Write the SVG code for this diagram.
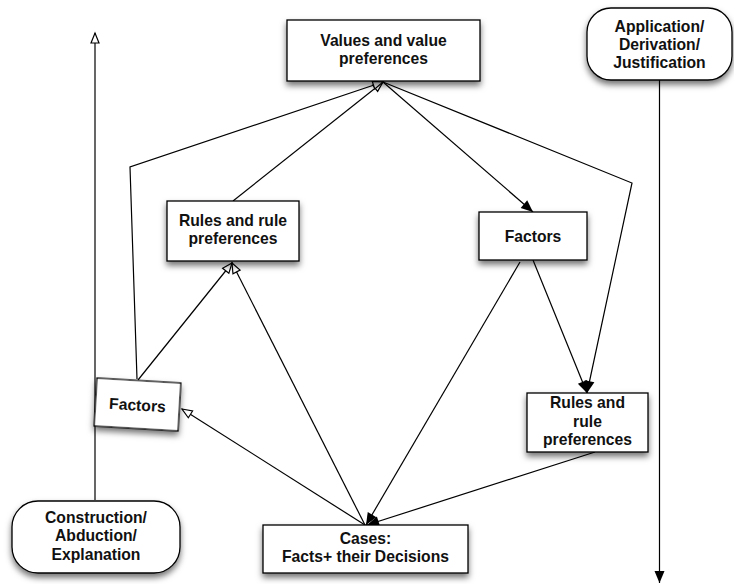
<svg xmlns="http://www.w3.org/2000/svg" width="734" height="584" viewBox="0 0 734 584">
<style>
.box{fill:#fff;stroke:#000;stroke-width:1.3}
.t{font-family:"Liberation Sans",Arial,sans-serif;font-weight:bold;font-size:15.7px;text-anchor:middle;fill:#111}
.c{fill:none;stroke:#000;stroke-width:1.2}
.h{marker-end:url(#hollow)}
.f{marker-end:url(#filled)}
</style>
<defs>
<filter id="sh" x="-20%" y="-20%" width="140%" height="160%">
<feDropShadow dx="0" dy="4" stdDeviation="3" flood-color="#000" flood-opacity="0.55"/>
</filter>
<marker id="hollow" markerUnits="userSpaceOnUse" markerWidth="14" markerHeight="12" refX="11" refY="5" orient="auto" overflow="visible">
<path d="M1,1 L11,5 L1,9 z" fill="#fff" stroke="#000" stroke-width="1.2"/>
</marker>
<marker id="filled" markerUnits="userSpaceOnUse" markerWidth="14" markerHeight="12" refX="12" refY="5" orient="auto" overflow="visible">
<path d="M0,0 L12,5 L0,10 z" fill="#000"/>
</marker>
</defs>
<g id="connectors">
<path class="c h" d="M95,500 L95,33"/>
<path class="c f" d="M659.5,80 L659.5,583"/>
<path class="c h" d="M233,201 L383,82"/>
<path class="c h" d="M137,379 L130,167 L383,82"/>
<path class="c f" d="M383,82 L533,212"/>
<path class="c f" d="M383,82 L632,183 L587,393"/>
<path class="c h" d="M138,380 L232,263"/>
<path class="c h" d="M365,525 L232,263"/>
<path class="c h" d="M365,525 L182,409"/>
<path class="c f" d="M520,262 L366,525"/>
<path class="c f" d="M533,260 L587,393"/>
<path class="c f" d="M595,452 L367,525"/>
</g>
<g id="values">
<rect class="box" filter="url(#sh)" x="287" y="20" width="193" height="61"/>
<text class="t" x="383.5" y="46">Values and value</text>
<text class="t" x="383.5" y="64">preferences</text>
</g>
<g id="application">
<rect class="box" filter="url(#sh)" x="587" y="8" width="145" height="72" rx="24"/>
<text class="t" x="659.5" y="32">Application/</text>
<text class="t" x="659.5" y="50">Derivation/</text>
<text class="t" x="659.5" y="68">Justification</text>
</g>
<g id="rules-left">
<rect class="box" filter="url(#sh)" x="167" y="201" width="132" height="60"/>
<text class="t" x="233" y="226">Rules and rule</text>
<text class="t" x="233" y="244">preferences</text>
</g>
<g id="factors-right">
<rect class="box" filter="url(#sh)" x="479" y="212" width="108" height="48"/>
<text class="t" x="533" y="242">Factors</text>
</g>
<g id="factors-left" transform="translate(137.5,404.5) rotate(3.4)">
<rect class="box" filter="url(#sh)" x="-42" y="-24" width="84" height="48"/>
<text class="t" x="0" y="6">Factors</text>
</g>
<g id="rules-right">
<rect class="box" filter="url(#sh)" x="527" y="393" width="121" height="59"/>
<text class="t" x="587.5" y="408">Rules and</text>
<text class="t" x="587.5" y="427">rule</text>
<text class="t" x="587.5" y="445">preferences</text>
</g>
<g id="cases">
<rect class="box" filter="url(#sh)" x="263" y="525" width="205" height="48"/>
<text class="t" x="365.5" y="544">Cases:</text>
<text class="t" x="365.5" y="562">Facts+ their Decisions</text>
</g>
<g id="construction">
<rect class="box" filter="url(#sh)" x="12" y="501" width="168" height="72" rx="26"/>
<text class="t" x="96" y="523">Construction/</text>
<text class="t" x="96" y="541">Abduction/</text>
<text class="t" x="96" y="560">Explanation</text>
</g>
</svg>
